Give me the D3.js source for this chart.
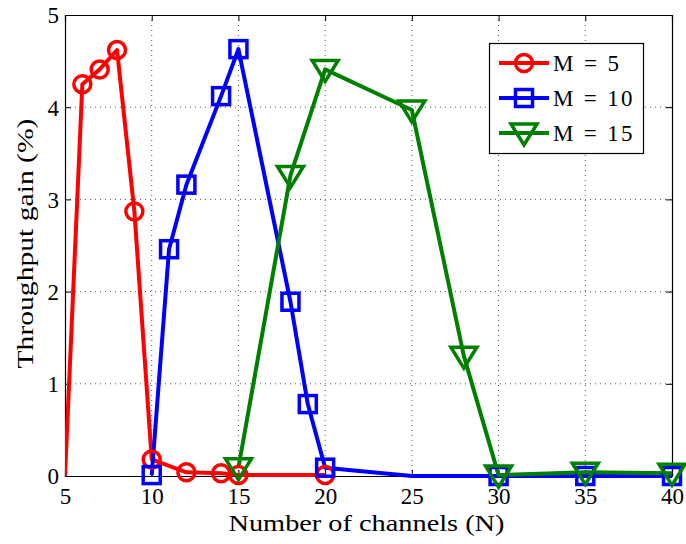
<!DOCTYPE html>
<html><head><meta charset="utf-8">
<script src="https://cdn.jsdelivr.net/npm/d3@7"></script>
<style>body{margin:0;background:#fff}svg{display:block}</style>
</head><body>
<script>
// ---- data ----
const m5N = [5, 6, 7, 8, 9, 10, 12, 14, 15, 20];
const m5G = [0, 4.25, 4.41, 4.62, 2.87, 0.18, 0.04, 0.03, 0.01, 0.01];
const m10N = [10, 11, 12, 14, 15, 18, 19, 20, 25, 30, 35, 40];
const m10G = [0.01, 2.46, 3.16, 4.12, 4.63, 1.89, 0.78, 0.09, 0.0, 0.0, 0.0, 0.0];
const m15N = [15, 18, 20, 25, 28, 30, 35, 40];
const m15G = [0.09, 3.26, 4.41, 3.97, 1.30, 0.01, 0.04, 0.03];
const xTicks = [5, 10, 15, 20, 25, 30, 35, 40];
const yTicks = [0, 1, 2, 3, 4, 5];
const seriesNames = ["M = 5", "M = 10", "M = 15"];
const xLabel = "Number of channels (N)";
const yLabel = "Throughput gain (%)";

const W = 686, H = 544;
const L = 65, R = 672, T = 15, B = 476;
const svg = d3.select("body").append("svg").attr("width", W).attr("height", H);
const x = d3.scaleLinear().domain([5, 40]).range([L, R]);
const y = d3.scaleLinear().domain([0, 5]).range([B, T]);
const font = "'Liberation Serif', 'Times New Roman', serif";

// grid
const grid = svg.append("g").attr("stroke", "#555").attr("stroke-width", 1).attr("stroke-dasharray", "1,4");
grid.selectAll(".gx").data(xTicks.slice(1, -1)).join("line")
  .attr("x1", d => x(d)).attr("x2", d => x(d)).attr("y1", T).attr("y2", B);
grid.selectAll(".gy").data(yTicks.slice(1, -1)).join("line")
  .attr("x1", L).attr("x2", R).attr("y1", d => y(d)).attr("y2", d => y(d));

// axes (ticks inside)
const fmt = d3.format("d");
const axB = d3.axisBottom(x).tickValues(xTicks).tickSize(-6).tickFormat(fmt);
const axT = d3.axisTop(x).tickValues(xTicks).tickSize(-6).tickFormat("");
const axL = d3.axisLeft(y).tickValues(yTicks).tickSize(-6).tickFormat(fmt);
const axR = d3.axisRight(y).tickValues(yTicks).tickSize(-6).tickFormat("");
function style(g) {
  g.select(".domain").attr("stroke", "#000").attr("stroke-width", 1.2);
  g.selectAll(".tick line").attr("stroke", "#000");
  g.selectAll("text").attr("font-family", font).attr("font-size", 23).attr("fill", "#000");
}
svg.append("g").attr("transform", `translate(0,${B})`).call(axB).call(style)
  .selectAll("text").attr("dy", null).attr("y", 28);
svg.append("g").attr("transform", `translate(0,${T})`).call(axT).call(style);
svg.append("g").attr("transform", `translate(${L},0)`).call(axL).call(style)
  .selectAll("text").attr("x", -6).attr("dy", "0.34em");
svg.append("g").attr("transform", `translate(${R},0)`).call(axR).call(style);

// clip
svg.append("clipPath").attr("id", "clip").append("rect")
  .attr("x", L).attr("y", T - 20).attr("width", R - L + 20).attr("height", B - T + 40);

const series = [
  {name: seriesNames[0], n: m5N, g: m5G, color: "#ff0000", shape: "circle", skipFirst: true},
  {name: seriesNames[1], n: m10N, g: m10G, color: "#0000ff", shape: "square", skipFirst: false},
  {name: seriesNames[2], n: m15N, g: m15G, color: "#008000", shape: "tri", skipFirst: false}
];
const line = d3.line().x(d => x(d[0])).y(d => y(d[1]));

function marker(g, shape, color, cx, cy) {
  if (shape === "circle") {
    g.append("circle").attr("cx", cx).attr("cy", cy).attr("r", 8.5)
      .attr("fill", "none").attr("stroke", color).attr("stroke-width", 3.5);
  } else if (shape === "square") {
    g.append("rect").attr("x", cx - 8.5).attr("y", cy - 8.5).attr("width", 17).attr("height", 17)
      .attr("fill", "none").attr("stroke", color).attr("stroke-width", 3.5);
  } else {
    g.append("path").attr("d", `M${cx - 13},${cy - 9} L${cx + 13},${cy - 9} L${cx},${cy + 12} Z`)
      .attr("fill", "none").attr("stroke", color).attr("stroke-width", 3.5).attr("stroke-linejoin", "miter");
  }
}

const plot = svg.append("g").attr("clip-path", "url(#clip)");
series.forEach(s => {
  const pts = s.n.map((v, i) => [v, s.g[i]]);
  plot.append("path").datum(pts).attr("d", line).attr("fill", "none")
    .attr("stroke", s.color).attr("stroke-width", 4).attr("stroke-linejoin", "round");
  const mg = svg.append("g");
  pts.forEach((p, i) => {
    if (s.skipFirst && i === 0) return;
    if (s.name === "M = 10" && p[0] === 25) return;
    marker(mg, s.shape, s.color, x(p[0]), y(p[1]));
  });
});

// labels
svg.append("text").attr("x", (L + R) / 2 - 2).attr("y", 531).attr("text-anchor", "middle")
  .attr("font-family", font).attr("font-size", 23).attr("textLength", 276).attr("lengthAdjust", "spacingAndGlyphs")
  .text(xLabel);
svg.append("text").attr("transform", `translate(33,${(T + B) / 2 - 2}) rotate(-90)`).attr("text-anchor", "middle")
  .attr("font-family", font).attr("font-size", 23).attr("textLength", 250).attr("lengthAdjust", "spacingAndGlyphs")
  .text(yLabel);

// legend
const lg = svg.append("g");
lg.append("rect").attr("x", 489.5).attr("y", 43.5).attr("width", 154).attr("height", 110)
  .attr("fill", "#fff").attr("stroke", "#000").attr("stroke-width", 1.2);
series.forEach((s, i) => {
  const cy = 63 + i * 35;
  lg.append("line").attr("x1", 499).attr("x2", 549).attr("y1", cy).attr("y2", cy)
    .attr("stroke", s.color).attr("stroke-width", 4);
  marker(lg, s.shape, s.color, 524, cy);
  const t = lg.append("text").attr("x", 553).attr("y", cy).attr("dy", "0.35em")
    .attr("font-family", font).attr("font-size", 23).text(s.name);
  const len = t.node().getComputedTextLength();
  t.attr("textLength", len * 1.17).attr("lengthAdjust", "spacing");
});
</script>
</body></html>
